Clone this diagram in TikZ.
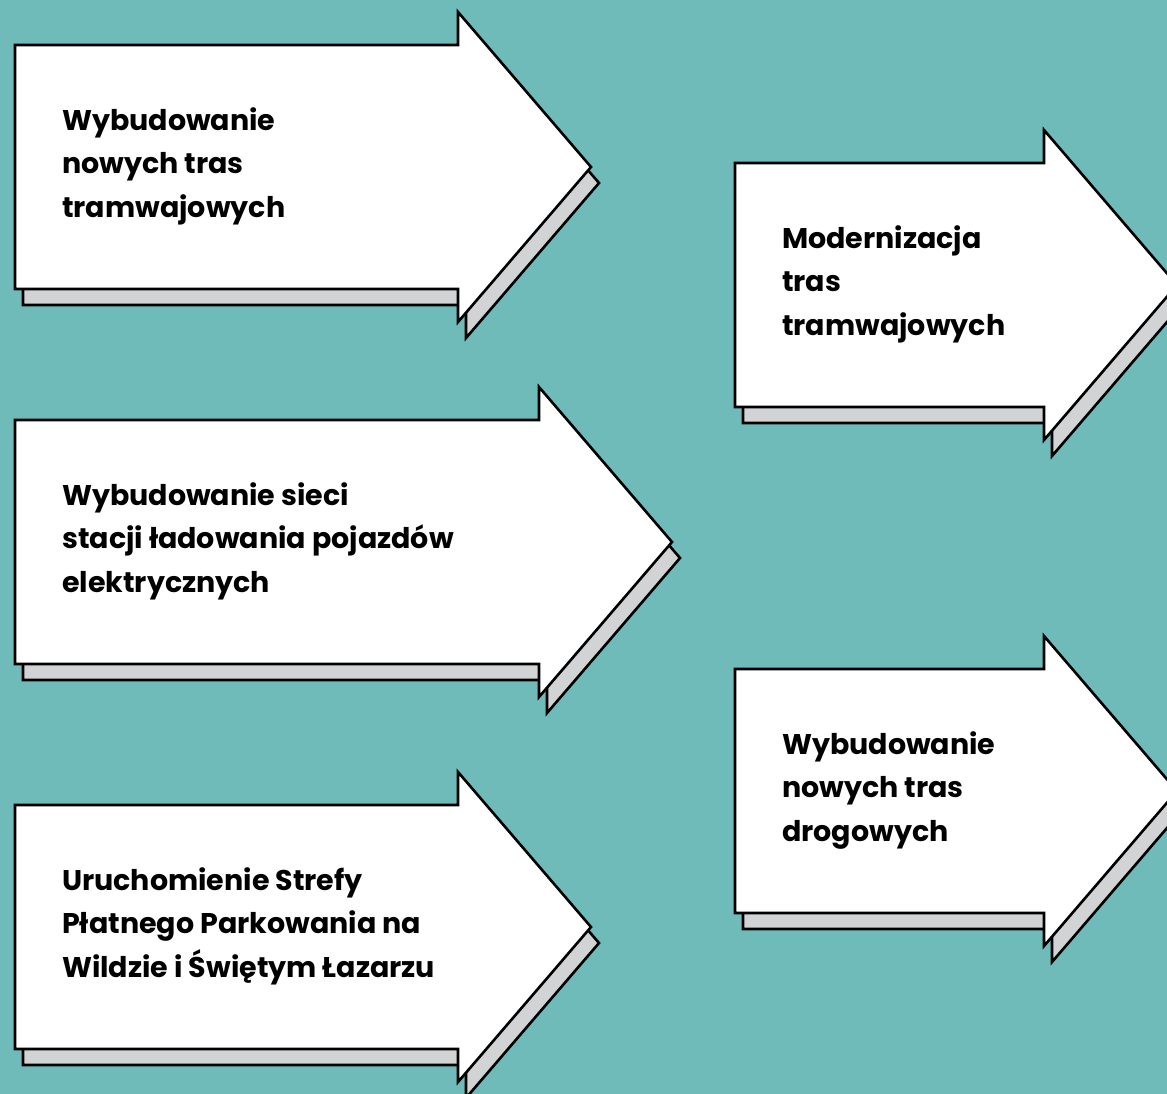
\documentclass[tikz,border=0pt]{standalone}
\usepackage{fontspec}
\setmainfont{Poppins}
\usepackage{tikz}
\usetikzlibrary{calc}

\definecolor{tealbg}{RGB}{111,187,185}
\definecolor{shadowgray}{RGB}{209,211,212}

% arrow outline: left x, top y, head base x
\newcommand{\arrowpath}[3]{(#1,#2) -- (#3,#2) -- (#3,#2-33) -- (#3+133,#2+122) -- (#3,#2+277) -- (#3,#2+244) -- (#1,#2+244) -- cycle}

\begin{document}
\begin{tikzpicture}[x=1pt,y=-1pt,
  arrowbody/.style={draw=black, fill=white, line width=2.6pt},
  arrowshadow/.style={draw=black, fill=shadowgray, line width=2.6pt},
  steptext/.style={anchor=west, align=left, inner sep=0pt, font=\bfseries\fontsize{28.5}{43.5}\selectfont}]
  \clip (0,0) rectangle (1167,1094);
  \fill[tealbg] (0,0) rectangle (1167,1094);

  \foreach \lx/\ty/\hx/\nm/\txt in {
      15/45/458/tramnew/{Wybudowanie\\nowych tras\\tramwajowych},
      15/420/539/charging/{Wybudowanie sieci\\stacji ładowania pojazdów\\elektrycznych},
      15/805/458/parking/{Uruchomienie Strefy\\Płatnego Parkowania na\\Wildzie i Świętym Łazarzu},
      735/163/1044/tramold/{Modernizacja\\tras\\tramwajowych},
      735/669/1044/roadnew/{Wybudowanie\\nowych tras\\drogowych}}{
    \draw[arrowshadow, shift={(8,16)}] \arrowpath{\lx}{\ty}{\hx};
    \draw[arrowbody] \arrowpath{\lx}{\ty}{\hx};
    \node[steptext] (\nm) at (\lx+47,\ty+121) {\txt};
  }
\end{tikzpicture}
\end{document}
